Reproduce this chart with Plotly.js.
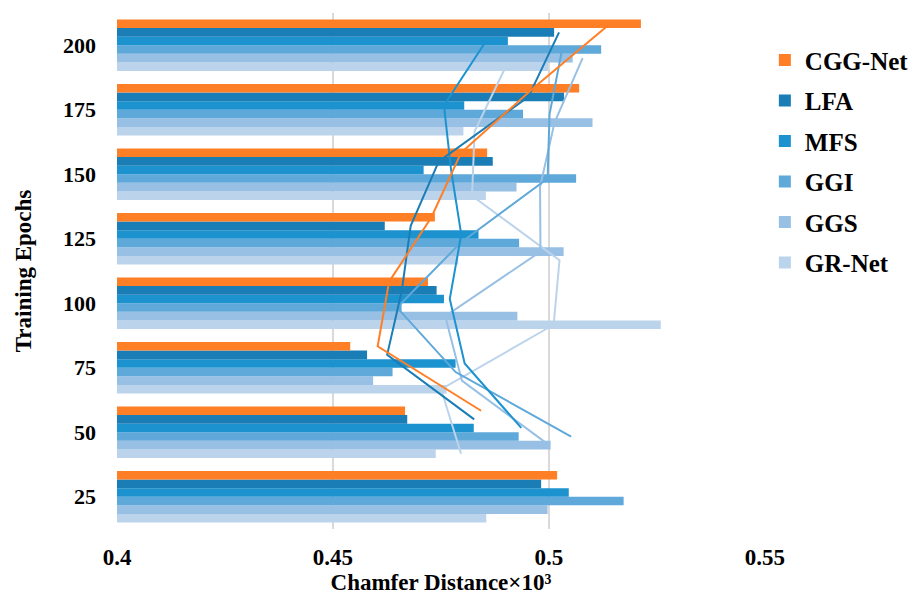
<!DOCTYPE html>
<html>
<head>
<meta charset="utf-8">
<script src="https://cdn.plot.ly/plotly-3.0.1.min.js"></script>
<style>html,body{margin:0;padding:0;background:#fff;}#chart{width:916px;height:596px;}</style>
</head>
<body>
<div id="chart"></div>
<script>
// Categories (Training Epochs), bottom to top
var epochs = ['25', '50', '75', '100', '125', '150', '175', '200'];

// Series values (Chamfer Distance x 10^3), same order as epochs
var cggNet = [0.5019, 0.4667, 0.4540, 0.4720, 0.4736, 0.4857, 0.5070, 0.5213];
var lfa    = [0.4982, 0.4672, 0.4579, 0.4740, 0.4620, 0.4870, 0.5035, 0.5012];
var mfs    = [0.5046, 0.4826, 0.4784, 0.4757, 0.4837, 0.4710, 0.4804, 0.4905];
var ggi    = [0.5173, 0.4930, 0.4638, 0.4659, 0.4931, 0.5063, 0.4940, 0.5121];
var ggs    = [0.4997, 0.5004, 0.4593, 0.4927, 0.5034, 0.4925, 0.5101, 0.5055];
var grNet  = [0.4855, 0.4738, 0.4763, 0.5259, 0.4790, 0.4854, 0.4802, 0.4998];

var xTickVals = [0.4, 0.45, 0.5, 0.55];
var xTickText = ['0.4', '0.45', '0.5', '0.55'];

// Series in drawing order (first = bottom bar in each group)
var seriesNames  = ['GR-Net', 'GGS', 'GGI', 'MFS', 'LFA', 'CGG-Net'];
var seriesValues = [grNet, ggs, ggi, mfs, lfa, cggNet];
var seriesColors = ['#bcd3ec', '#97c0e4', '#5ea8da', '#1c92cf', '#1a7db5', '#ff7f27'];

var FONT = 'Liberation Serif, Times New Roman, serif';
var bargap = 0.2;
var n = seriesNames.length;
var catIdx = epochs.map(function (_, i) { return i; });

var traces = [];
seriesNames.forEach(function (name, s) {
  traces.push({
    type: 'bar', orientation: 'h', name: name,
    x: seriesValues[s], y: catIdx,
    marker: {color: seriesColors[s], line: {width: 0}},
    legendgroup: name, legendrank: n - s, hoverinfo: 'x+name'
  });
});

// Two-period moving average trendlines, drawn at each series' bar position
var bw = (1 - bargap) / n;
seriesNames.forEach(function (name, s) {
  var vals = seriesValues[s];
  var off = -(1 - bargap) / 2 + (s + 0.5) * bw;
  var mx = [], my = [];
  for (var k = 1; k < vals.length; k++) {
    mx.push((vals[k - 1] + vals[k]) / 2);
    my.push(k + off);
  }
  traces.push({
    type: 'scatter', mode: 'lines', x: mx, y: my,
    line: {color: seriesColors[s], width: 2},
    showlegend: false, legendgroup: name, legendrank: n - s, hoverinfo: 'skip'
  });
});

var layout = {
  width: 916, height: 596,
  margin: {l: 117, r: 149, t: 13, b: 67},
  paper_bgcolor: '#fff', plot_bgcolor: '#fff',
  barmode: 'group', bargap: bargap, bargroupgap: 0,
  showlegend: true,
  font: {family: FONT, color: '#000'},
  xaxis: {
    range: [0.4, 0.55], tickvals: xTickVals, ticktext: xTickText,
    showgrid: true, gridcolor: '#d9d9d9', gridwidth: 1.5,
    zeroline: false, showline: false, ticks: '',
    ticklabelstandoff: 12,
    tickfont: {family: FONT, size: 23, weight: 'bold', color: '#000'},
    title: {text: 'Chamfer Distance×10³', standoff: 4,
            font: {family: FONT, size: 23, weight: 'bold', color: '#000'}}
  },
  yaxis: {
    range: [-0.5, 7.5], tickvals: catIdx, ticktext: epochs,
    showgrid: false, zeroline: false, showline: false, ticks: '',
    ticklabelstandoff: 20,
    tickfont: {family: FONT, size: 22, weight: 'bold', color: '#000'},
    title: {text: 'Training Epochs', standoff: 24,
            font: {family: FONT, size: 23, weight: 'bold', color: '#000'}}
  },
  legend: {
    xref: 'container', yref: 'container',
    x: 0.835, xanchor: 'left', y: 0.9375, yanchor: 'top',
    traceorder: 'grouped', tracegroupgap: 5,
    font: {family: FONT, size: 25, weight: 'bold', color: '#000'},
    bgcolor: 'rgba(0,0,0,0)', borderwidth: 0
  }
};

Plotly.newPlot('chart', traces, layout, {displayModeBar: false, staticPlot: true});
</script>
</body>
</html>
